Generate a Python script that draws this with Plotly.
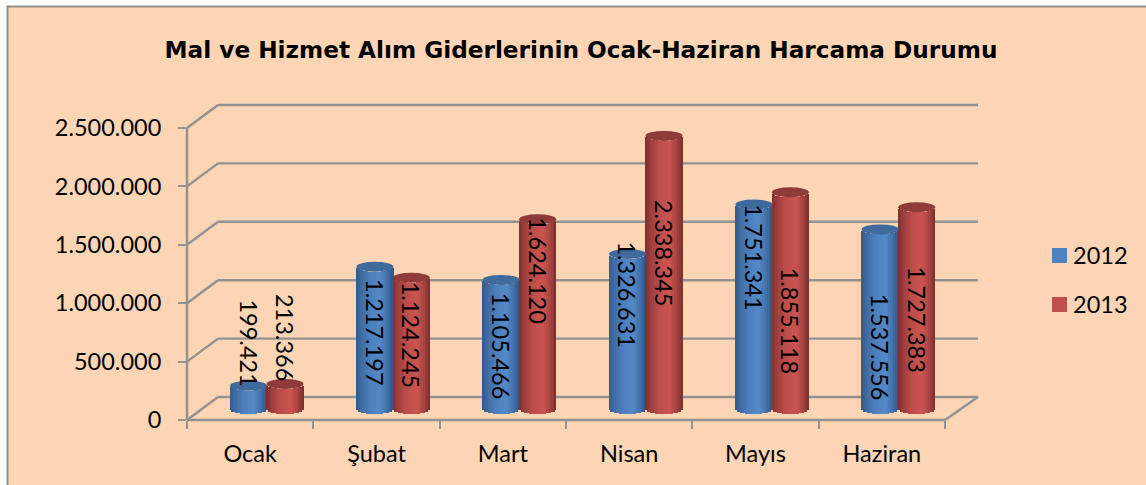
import math
import plotly.graph_objects as go

W, H = 1146, 485
title = "Mal ve Hizmet Alım Giderlerinin Ocak-Haziran Harcama Durumu"
months = ["Ocak", "Şubat", "Mart", "Nisan", "Mayıs", "Haziran"]
series_names = ["2012", "2013"]
values_2012 = [199421, 1217197, 1105466, 1326631, 1751341, 1537556]
values_2013 = [213366, 1124245, 1624120, 2338345, 1855118, 1727383]
labels_2012 = ["199.421", "1.217.197", "1.105.466", "1.326.631", "1.751.341", "1.537.556"]
labels_2013 = ["213.366", "1.124.245", "1.624.120", "2.338.345", "1.855.118", "1.727.383"]
label_pos_2012 = [573600, 660000, 548000, 985000, 1301000, 539000]
label_pos_2013 = [625000, 642000, 1190000, 1344000, 762000, 770000]
y_ticks = [0, 500000, 1000000, 1500000, 2000000, 2500000]
y_tick_text = ["0", "500.000", "1.000.000", "1.500.000", "2.000.000", "2.500.000"]

BG = "#FCD5B5"
GRID = "#929292"
TEXT_FONT = "Lato"
TEXT_SIZE = 23.5
LEGEND_COLORS = ["#4F81BD", "#C0504D"]

# frame of the front plane, in pixels
LEFT, RIGHT, TOP, BOTTOM = 187, 945, 128, 420
DEPTH_X, DEPTH_Y = 32, 23   # wall depth
BAR_DX, BAR_DY = 16.6, 11   # bars stand in the middle of the floor
YMAX = 2500000
x_per_px = 6 / (RIGHT - LEFT)
y_per_px = YMAX / (BOTTOM - TOP)


def px(x):
    return x / W


def py(y):
    return 1 - y / H


shapes = [
    dict(type="rect", xref="paper", yref="paper", x0=px(7.5), x1=1.02, y0=-0.02, y1=py(6.5),
         fillcolor=BG, line=dict(color="#8F8F8F", width=2), layer="below"),
]


def grid(x0, y0, x1, y1):
    shapes.append(dict(type="line", xref="paper", yref="paper", x0=px(x0), x1=px(x1),
                       y0=py(y0), y1=py(y1), line=dict(color=GRID, width=2.4), layer="below"))


for t in y_ticks:
    yf = BOTTOM - t / y_per_px
    grid(LEFT, yf, LEFT + DEPTH_X - 1, yf - DEPTH_Y)
    grid(LEFT + DEPTH_X - 1, yf - DEPTH_Y, RIGHT + DEPTH_X + 1, yf - DEPTH_Y)
grid(LEFT, TOP, LEFT, BOTTOM)
grid(LEFT, BOTTOM, RIGHT, BOTTOM)
grid(RIGHT, BOTTOM, RIGHT + DEPTH_X + 1, BOTTOM - DEPTH_Y)

# legend keys sit closer to their text than plotly's legend allows
for k, col in enumerate(LEGEND_COLORS):
    shapes.append(dict(type="rect", xref="paper", yref="paper", x0=px(1052), x1=px(1067),
                       y0=py(263 + 49 * k), y1=py(248 + 49 * k), fillcolor=col,
                       line=dict(width=0), layer="above"))

# cylinder look: narrow strips with a shading ramp across the width
BAR_W = 37 * x_per_px
GAP = 36.5 * x_per_px
CAP_H = 5 * y_per_px
STRIPS = 22
ramp_pos = [0.0, 0.12, 0.35, 0.65, 0.85, 1.0]
ramp_blue = [(50, 88, 135), (62, 106, 160), (76, 126, 188), (84, 137, 200), (66, 112, 168), (46, 84, 130)]
ramp_red = [(125, 46, 44), (150, 60, 58), (186, 76, 73), (203, 84, 80), (165, 66, 63), (122, 46, 44)]


def shade(ramp, u):
    for i in range(len(ramp_pos) - 1):
        if u <= ramp_pos[i + 1]:
            f = (u - ramp_pos[i]) / (ramp_pos[i + 1] - ramp_pos[i])
            c = [round(a + (b - a) * f) for a, b in zip(ramp[i], ramp[i + 1])]
            return f"rgb({c[0]},{c[1]},{c[2]})"
    return f"rgb{ramp[-1]}"


fig = go.Figure()
sets = [(values_2012, ramp_blue, -GAP / 2, "#3E6A9C", labels_2012, label_pos_2012),
        (values_2013, ramp_red, GAP / 2, "#8F3B39", labels_2013, label_pos_2013)]
annotations = []
for vals, ramp, off, cap, labs, lpos in sets:
    for s in range(STRIPS):
        u = (s + 0.5) / STRIPS
        sag = CAP_H * math.sqrt(max(0.0, 1 - (2 * u - 1) ** 2))
        xs = [i + off + (u - 0.5) * BAR_W for i in range(len(vals))]
        fig.add_trace(go.Bar(
            x=xs, y=vals, base=[-sag] * len(vals), width=BAR_W / STRIPS * 1.25,
            marker=dict(color=shade(ramp, u), line=dict(width=0)),
            xaxis="x2", yaxis="y2", showlegend=False, hoverinfo="skip"))
    for i, v in enumerate(vals):
        shapes.append(dict(type="circle", xref="x2", yref="y2",
                           x0=i + off - BAR_W / 2, x1=i + off + BAR_W / 2,
                           y0=v - CAP_H, y1=v + CAP_H,
                           fillcolor=cap, line=dict(width=0), layer="above"))
        annotations.append(dict(x=i + off, y=lpos[i] - 8500, xref="x2", yref="y2", text=labs[i],
                                textangle=90, showarrow=False,
                                font=dict(family=TEXT_FONT, size=TEXT_SIZE, color="black")))

for name in series_names:
    fig.add_trace(go.Scatter(x=[None], y=[None], mode="markers", name=name, legendgroup=name,
                             marker=dict(symbol="square", size=15, color="rgba(0,0,0,0)")))

fig.update_layout(
    width=W, height=H, margin=dict(l=0, r=0, t=0, b=0, autoexpand=False), autosize=False,
    paper_bgcolor="white", plot_bgcolor="rgba(0,0,0,0)",
    barmode="overlay", bargap=0,
    title=dict(text="<b>" + title + "</b>", x=581 / W, y=py(50), xref="paper", yref="paper",
               xanchor="center", yanchor="middle", automargin=False,
               font=dict(family="DejaVu Sans", size=23.2, color="black")),
    xaxis=dict(domain=[px(LEFT), px(RIGHT)], range=[-0.5, 5.5], tickmode="array",
               tickvals=list(range(6)), ticktext=months, ticks="", showgrid=False, zeroline=False,
               showline=False, automargin=False,
               tickfont=dict(family=TEXT_FONT, size=TEXT_SIZE, color="black"),
               ticklabelstandoff=17,
               minor=dict(tickmode="array", tickvals=[i - 0.5 for i in range(7)], ticks="outside",
                          ticklen=8, tickwidth=2, tickcolor=GRID, showgrid=False)),
    yaxis=dict(domain=[py(BOTTOM), py(TOP)], range=[0, YMAX], tickmode="array",
               tickvals=y_ticks, ticktext=y_tick_text, ticks="outside", ticklen=8, tickwidth=2,
               tickcolor=GRID, showgrid=False, zeroline=False, showline=False, automargin=False,
               tickfont=dict(family=TEXT_FONT, size=TEXT_SIZE, color="black"), ticklabelstandoff=12),
    xaxis2=dict(domain=[px(LEFT), px(RIGHT)], range=[-0.5 - BAR_DX * x_per_px, 5.5 - BAR_DX * x_per_px],
                overlaying="x", anchor="y2", visible=False),
    yaxis2=dict(domain=[py(BOTTOM), py(TOP)], range=[-BAR_DY * y_per_px, YMAX - BAR_DY * y_per_px],
                overlaying="y", anchor="x2", visible=False),
    legend=dict(x=px(1046), y=py(233), xanchor="left", yanchor="top", bgcolor="rgba(0,0,0,0)",
                font=dict(family=TEXT_FONT, size=TEXT_SIZE, color="black"), tracegroupgap=16,
                itemwidth=30, indentation=-13),
    shapes=shapes, annotations=annotations,
)
fig.write_html("out.html", config={"displayModeBar": False},
               post_script="document.body.style.margin='0';document.documentElement.style.overflow='hidden';")
